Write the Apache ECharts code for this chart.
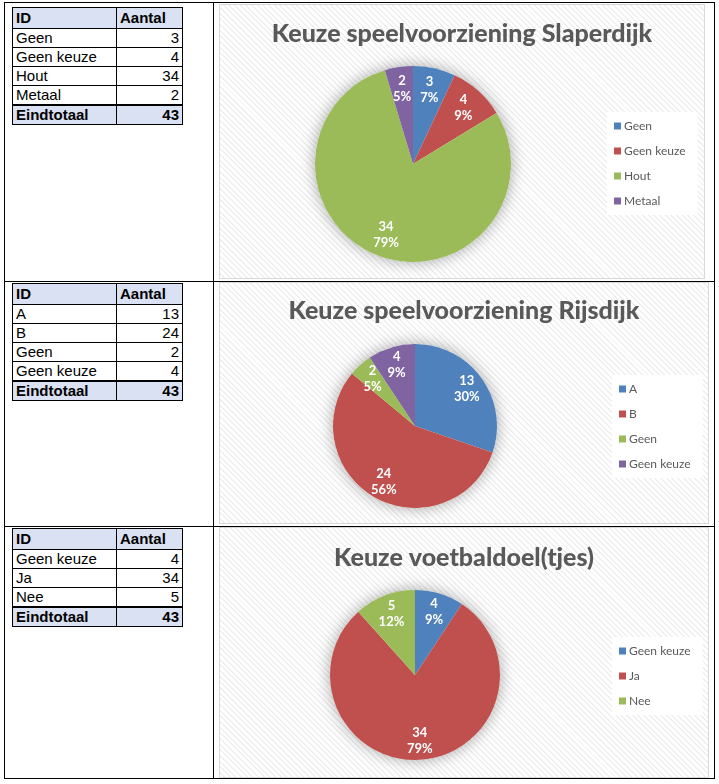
<!DOCTYPE html>
<html>
<head>
<meta charset="utf-8">
<script src="https://cdn.jsdelivr.net/npm/echarts@6/dist/echarts.min.js"></script>
<style>
  html, body { margin: 0; padding: 0; background: #fff; }
  body { width: 719px; height: 784px; position: relative; overflow: hidden; }
  .lijn { position: absolute; background: #000; }
  .tabel { position: absolute; left: 12px; width: 171px; border-collapse: collapse;
           font-family: "Liberation Sans", Arial, sans-serif; font-size: 15px; color: #000; }
  .tabel td { border: 1px solid #000; padding: 0 3px; height: 18px; line-height: 16px; white-space: nowrap; }
  .tabel td.getal { text-align: right; }
  .tabel tr.kop td { background: #d9e1f2; font-weight: bold; height: 20px; }
  .tabel tr.totaal td { background: #d9e1f2; font-weight: bold; border-top: 2px solid #000; }
  .grafiek { position: absolute; border: 1px solid #d9d9d9;
             background: repeating-linear-gradient(45deg, #ffffff 0px, #ffffff 2.6px, #efefef 2.6px, #efefef 4px); }
</style>
</head>
<body>
<script>
// gegevens
var slaperdijkNamen = ['Geen', 'Geen keuze', 'Hout', 'Metaal'];
var slaperdijkAantal = [3, 4, 34, 2];
var rijsdijkNamen = ['A', 'B', 'Geen', 'Geen keuze'];
var rijsdijkAantal = [13, 24, 2, 4];
var voetbalNamen = ['Geen keuze', 'Ja', 'Nee'];
var voetbalAantal = [4, 34, 5];

var kleuren = ['#4f81bd', '#c0504d', '#9bbb59', '#8064a2'];

// omlijsting van de tabel
function lijn(x, y, w, h) {
    var d = document.createElement('div');
    d.className = 'lijn';
    d.style.left = x + 'px'; d.style.top = y + 'px';
    d.style.width = w + 'px'; d.style.height = h + 'px';
    document.body.appendChild(d);
}
[4, 213, 714].forEach(function (x) { lijn(x, 2, 1, 777); });
[2, 281, 526, 778].forEach(function (y) { lijn(4, y, 711, 1); });

// draaitabellen links
function draaitabel(top, namen, aantallen) {
    var t = document.createElement('table');
    t.className = 'tabel';
    t.style.top = top + 'px';
    var html = '<tr class="kop"><td style="width:97px">ID</td><td>Aantal</td></tr>';
    var som = 0;
    namen.forEach(function (n, i) {
        som += aantallen[i];
        html += '<tr><td>' + n + '</td><td class="getal">' + aantallen[i] + '</td></tr>';
    });
    html += '<tr class="totaal"><td>Eindtotaal</td><td class="getal">' + som + '</td></tr>';
    t.innerHTML = html;
    document.body.appendChild(t);
}
draaitabel(7, slaperdijkNamen, slaperdijkAantal);
draaitabel(283, rijsdijkNamen, rijsdijkAantal);
draaitabel(528, voetbalNamen, voetbalAantal);

// taartdiagrammen rechts
function taart(box, titel, namen, aantallen, cfg) {
    var d = document.createElement('div');
    d.className = 'grafiek';
    d.style.left = box[0] + 'px'; d.style.top = box[1] + 'px';
    d.style.width = box[2] + 'px'; d.style.height = box[3] + 'px';
    document.body.appendChild(d);

    var data = namen.map(function (n, i) { return { name: n, value: aantallen[i] }; });
    var chart = echarts.init(d, null, { renderer: 'canvas' });
    chart.setOption({
        animation: false,
        color: kleuren,
        backgroundColor: 'transparent',
        title: {
            text: titel,
            left: 'center',
            top: cfg.titelTop,
            padding: 0,
            textStyle: { fontFamily: 'Lato', fontWeight: 900, fontSize: 25, color: '#595959' }
        },
        legend: {
            orient: 'vertical',
            left: cfg.legenda[0],
            top: cfg.legenda[1],
            width: 80,
            data: namen,
            icon: 'rect',
            itemWidth: 7,
            itemHeight: 7,
            itemGap: 11,
            padding: [7, 12, 7, 7],
            backgroundColor: '#ffffff',
            textStyle: { fontFamily: 'Lato', fontSize: 12, color: '#595959', padding: [0, 0, 0, -2], lineHeight: 14 }
        },
        series: [
            {
                // zachte schaduw onder de taart
                name: 'schaduw',
                type: 'pie',
                silent: true,
                center: cfg.midden,
                radius: cfg.straal,
                label: { show: false },
                itemStyle: { color: '#ffffff', shadowBlur: 16, shadowColor: 'rgba(0,0,0,0.35)' },
                data: [{ name: '', value: 1 }]
            },
            {
                name: titel,
                type: 'pie',
                center: cfg.midden,
                radius: cfg.straal,
                label: { show: false },
                labelLine: { show: false },
                data: data
            },
            {
                // alleen de etiketten, iets verder naar buiten
                name: 'etiket',
                type: 'pie',
                silent: true,
                center: cfg.midden,
                radius: [cfg.straal * 0.48, cfg.straal],
                percentPrecision: 0,
                itemStyle: { color: 'transparent' },
                label: {
                    show: true,
                    position: 'inside',
                    formatter: '{c}\n{d}%',
                    color: '#ffffff',
                    fontFamily: 'Lato',
                    fontWeight: 'bold',
                    fontSize: 13,
                    lineHeight: 16
                },
                data: data
            }
        ]
    });
}

taart([219, 4, 484, 273], 'Keuze speelvoorziening Slaperdijk', slaperdijkNamen, slaperdijkAantal,
    { titelTop: 16, midden: [193, 159], straal: 98, legenda: [387, 107] });
taart([219, 282, 488, 240], 'Keuze speelvoorziening Rijsdijk', rijsdijkNamen, rijsdijkAantal,
    { titelTop: 15, midden: [195, 143], straal: 82, legenda: [392, 92] });
taart([219, 527, 488, 249], 'Keuze voetbaldoel(tjes)', voetbalNamen, voetbalAantal,
    { titelTop: 17, midden: [195, 147], straal: 85, legenda: [392, 109] });
</script>
</body>
</html>
